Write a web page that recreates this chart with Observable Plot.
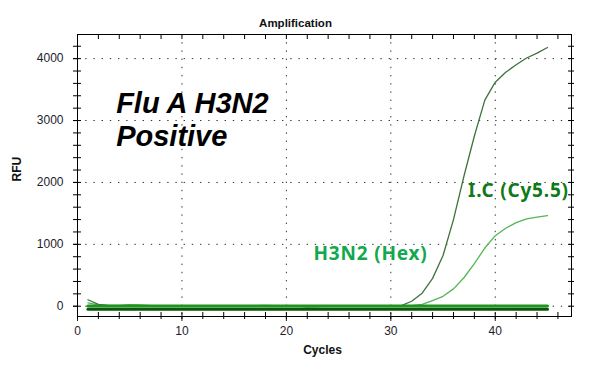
<!DOCTYPE html>
<html><head><meta charset="utf-8">
<script src="https://cdn.jsdelivr.net/npm/d3@7"></script>
<script src="https://cdn.jsdelivr.net/npm/@observablehq/plot@0.6"></script>
<style>
html,body{margin:0;padding:0;background:#fff;}
#chart{width:590px;height:372px;}
</style></head><body><div id="chart"></div>
<script>
const cycles = [1,2,3,4,5,6,7,8,9,10,11,12,13,14,15,16,17,18,19,20,21,22,23,24,25,26,27,28,29,30,31,32,33,34,35,36,37,38,39,40,41,42,43,44,45];
const icCy55 = [105,30,10,5,3,8,4,2,0,0,0,0,0,0,0,0,0,0,0,0,0,-10,-5,0,0,0,0,0,0,0,10,80,210,450,820,1400,2100,2750,3330,3620,3780,3900,4010,4090,4180];
const h3n2Hex = [55,20,12,15,25,20,10,5,3,2,2,5,10,8,5,5,10,12,8,5,2,0,0,0,0,0,0,0,0,0,0,8,30,90,160,280,460,690,940,1140,1260,1350,1410,1440,1465];
const negA = [5,5,5,5,5,5,5,5,5,5,5,5,5,5,5,5,5,5,5,5,5,5,5,5,5,5,5,5,5,5,5,5,5,5,5,5,5,5,5,5,5,5,5,5,5];
const negB = [-48,-48,-48,-48,-48,-48,-48,-48,-48,-48,-48,-48,-48,-48,-48,-48,-48,-48,-48,-48,-48,-48,-48,-48,-48,-48,-48,-48,-48,-48,-48,-48,-48,-48,-48,-48,-48,-48,-48,-48,-48,-48,-48,-48,-48];
const xMajor = [0,10,20,30,40];
const xMinor = [0,2,4,6,8,10,12,14,16,18,20,22,24,26,28,30,32,34,36,38,40,42,44,46];
const yMajor = [0,1000,2000,3000,4000];
const yMinor = [0,200,400,600,800,1000,1200,1400,1600,1800,2000,2200,2400,2600,2800,3000,3200,3400,3600,3800,4000,4200];
const titleText = "Amplification";
const xLabel = "Cycles";
const yLabel = "RFU";
const notes = [
  {text: "Flu A H3N2\nPositive", x: 3.7, y: 2585, color: "#000"}
];
const labels = [
  {text: "H3N2 (Hex)", x: 22.6, y: 754, color: "#12a84f"},
  {text: "I.C (Cy5.5)", x: 37.4, y: 1772, color: "#0f7a17"}
];
const toRows = (vals) => cycles.map((c, i) => ({c, v: vals[i]}));

const tickColor = "#1c1c2c";
const svg = Plot.plot({
  width: 590, height: 372,
  marginLeft: 77, marginRight: 19, marginTop: 34, marginBottom: 56,
  style: {fontFamily: "Liberation Sans, Arial, sans-serif", fontSize: "12px", background: "#fff"},
  x: {domain: [0, 47.3]},
  y: {domain: [-166, 4390]},
  marks: [
    Plot.gridX(xMajor.slice(1), {stroke: "#333", strokeOpacity: 1, strokeDasharray: "1.4,6.8"}),
    Plot.gridY(yMajor, {stroke: "#333", strokeOpacity: 1, strokeDasharray: "1.4,6.8"}),
    Plot.lineY(toRows(h3n2Hex), {x: "c", y: "v", stroke: "#55b455", strokeWidth: 1.3}),
    Plot.lineY(toRows(icCy55), {x: "c", y: "v", stroke: "#3d733d", strokeWidth: 1.3}),
    Plot.lineY(toRows(negA), {x: "c", y: "v", stroke: "#1f951f", strokeWidth: 3}),
    Plot.lineY(toRows(negB), {x: "c", y: "v", stroke: "#0a570a", strokeWidth: 3}),
    Plot.frame({stroke: "#000", strokeWidth: 1}),
    // bottom axis
    Plot.axisX({ticks: xMajor, tickSize: 5, tickPadding: 5, tickFormat: d => String(d), label: null, color: tickColor, fontSize: 12}),
    Plot.axisX({ticks: xMinor, tickSize: 3, text: null, label: null}),
    Plot.axisX({ticks: xMinor, tickSize: -4, text: null, label: null}),
    // top inner ticks
    Plot.axisX({anchor: "top", ticks: xMinor, tickSize: -4, text: null, label: null}),
    // left axis
    Plot.axisY({ticks: yMajor, tickSize: 4, tickPadding: 10, tickFormat: d => String(d), label: null, color: tickColor, fontSize: 12}),
    Plot.axisY({ticks: yMinor, tickSize: 4, text: null, label: null}),
    Plot.axisY({ticks: yMinor, tickSize: -4, text: null, label: null}),
    // right axis
    Plot.axisY({anchor: "right", ticks: yMinor, tickSize: 2, text: null, label: null}),
    Plot.axisY({anchor: "right", ticks: yMinor, tickSize: -4, text: null, label: null}),
    // titles
    Plot.text([titleText], {text: d => d, frameAnchor: "top", dy: -16, dx: -29, fontWeight: "bold", fontSize: 11.5, fill: "#111"}),
    Plot.text([xLabel], {text: d => d, frameAnchor: "bottom", dy: 37, dx: -2, fontWeight: "bold", fontSize: 12, fill: "#111"}),
    Plot.text([yLabel], {text: d => d, frameAnchor: "left", dx: -60, dy: 6, rotate: -90, fontWeight: "bold", fontSize: 12, fill: "#111"}),
    // annotations
    Plot.text(notes, {x: "x", y: "y", text: "text", fill: "color", fontFamily: "Liberation Sans, Arial, sans-serif", fontSize: 29, lineHeight: 1.16, fontStyle: "italic", fontWeight: "bold", textAnchor: "start", lineAnchor: "bottom"}),
    Plot.text(labels, {x: "x", y: "y", text: "text", fill: "color", fontFamily: "Noto Sans, sans-serif", fontSize: 19, fontWeight: "bold", textAnchor: "start", lineAnchor: "bottom"})
  ]
});
d3.select(svg).selectAll("text").filter(function(){ return labels.some(l => l.text === this.textContent); }).attr("letter-spacing", "0.8px");
document.getElementById("chart").appendChild(svg);
</script></body></html>
